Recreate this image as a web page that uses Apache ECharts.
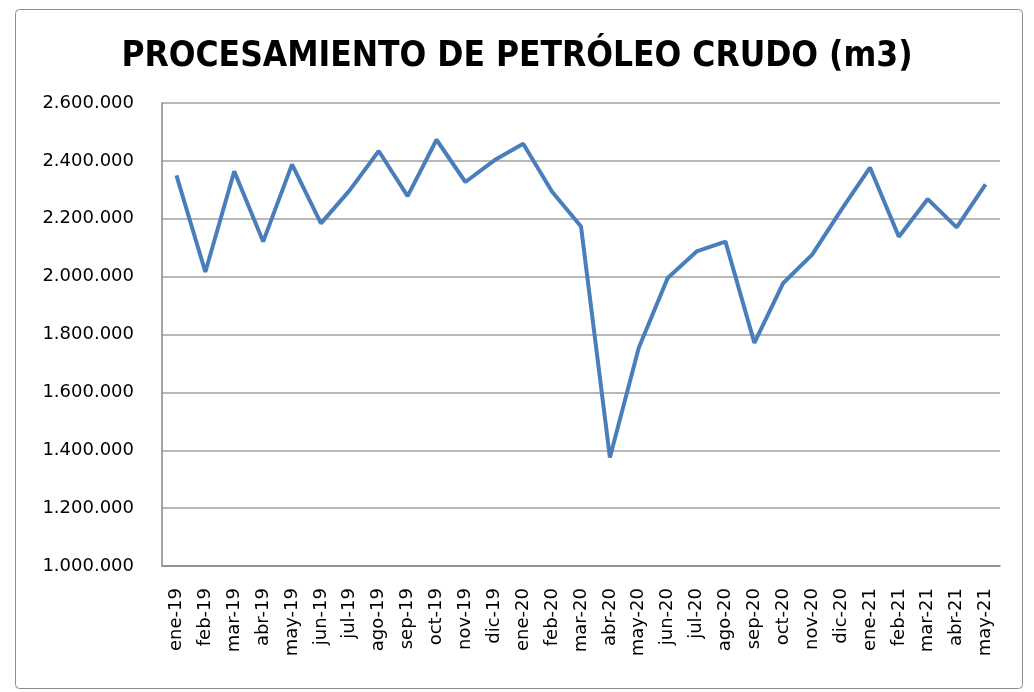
<!DOCTYPE html>
<html><head><meta charset="utf-8">
<script src="https://cdn.jsdelivr.net/npm/echarts@6/dist/echarts.min.js"></script>
<style>html,body{margin:0;padding:0;background:#fff}#c{width:1034px;height:692px}</style>
</head><body><div id="c"></div>
<script>
const categories = ['ene-19','feb-19','mar-19','abr-19','may-19','jun-19','jul-19','ago-19','sep-19','oct-19','nov-19','dic-19','ene-20','feb-20','mar-20','abr-20','may-20','jun-20','jul-20','ago-20','sep-20','oct-20','nov-20','dic-20','ene-21','feb-21','mar-21','abr-21','may-21'];
const values = [2350000,2016000,2364000,2121000,2388000,2184000,2299000,2434000,2278000,2473000,2327000,2402000,2459000,2293000,2173000,1375000,1754000,1995000,2087000,2121000,1771000,1978000,2076000,2230000,2377000,2138000,2268000,2170000,2319000];
const title = 'PROCESAMIENTO DE PETRÓLEO CRUDO (m3)';
const yMin = 1000000, yMax = 2600000, yStep = 200000;

function fmt(v){ return String(v).replace(/\B(?=(\d{3})+(?!\d))/g, '.'); }

const chart = echarts.init(document.getElementById('c'));
chart.setOption({
  animation: false,
  backgroundColor: '#fff',
  graphic: [{type:'rect', left: 13, top: 7, shape:{width:1007, height:679, r:4}, style:{fill:'none', stroke:'#8c8c8c', lineWidth:1}}],
  title: {text: title, left: 'center', top: 34, textStyle: {fontFamily: '"DejaVu Sans Condensed","DejaVu Sans",sans-serif', fontWeight: 'bold', fontSize: 35, color: '#000'}},
  grid: {left: 162, right: 34, top: 103, bottom: 126},
  xAxis: {
    type: 'category', data: categories, boundaryGap: true,
    axisLine: {lineStyle: {color: '#868686', width: 1.5}},
    axisTick: {show: false},
    axisLabel: {rotate: 90, color: '#000', fontSize: 18, fontFamily: '"DejaVu Sans",sans-serif', margin: 22, interval: 0}
  },
  yAxis: {
    type: 'value', min: yMin, max: yMax, interval: yStep,
    axisLine: {show: true, lineStyle: {color: '#868686', width: 1.5}},
    axisTick: {show: false},
    splitLine: {lineStyle: {color: '#a0a0a0', width: 1.5}},
    axisLabel: {formatter: fmt, color: '#000', fontSize: 18, fontFamily: '"DejaVu Sans",sans-serif', margin: 28}
  },
  series: [{type: 'line', data: values, symbol: 'none', lineStyle: {color: '#4a7ebb', width: 4}, itemStyle: {color: '#4a7ebb'}}]
});
</script></body></html>
